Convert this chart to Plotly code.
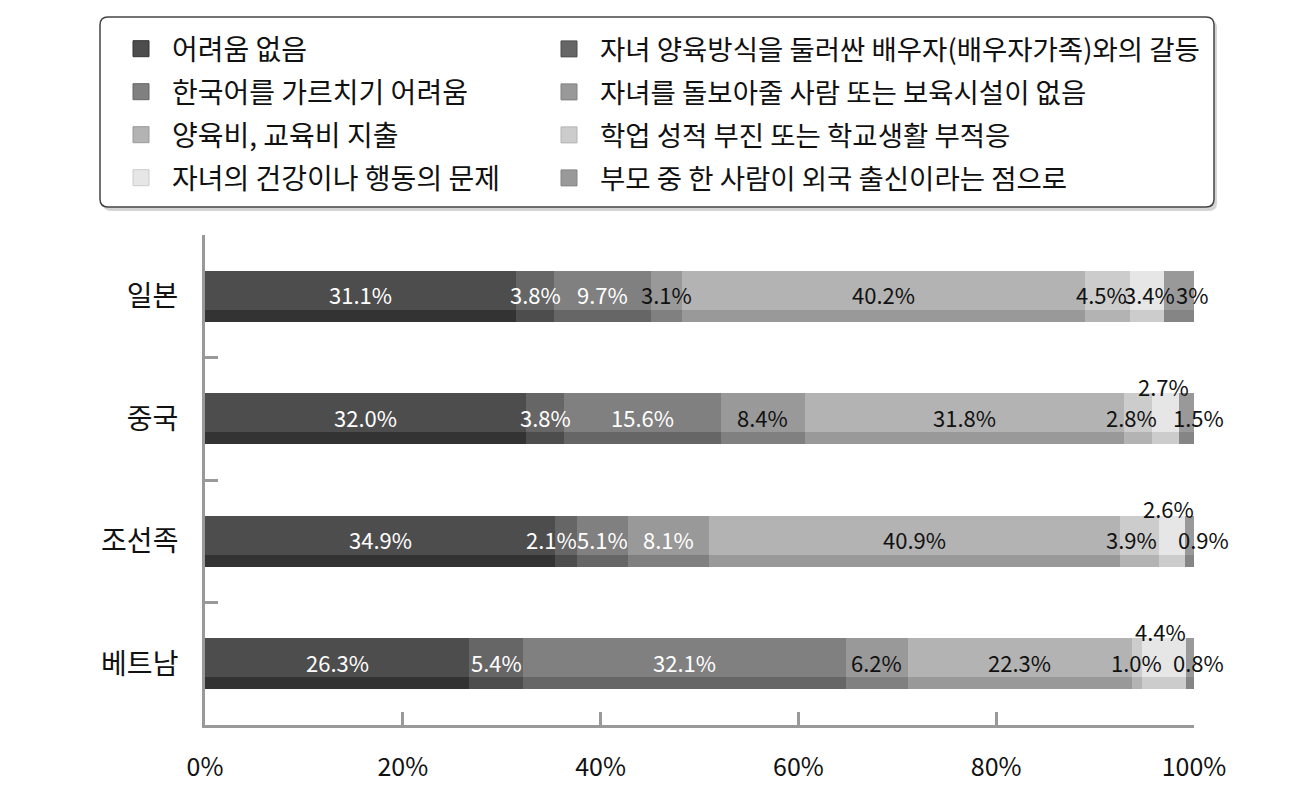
import numpy as np
import plotly.graph_objects as go

countries = ["일본", "중국", "조선족", "베트남"]

series_names = [
    "어려움 없음",
    "자녀 양육방식을 둘러싼 배우자(배우자가족)와의 갈등",
    "한국어를 가르치기 어려움",
    "자녀를 돌보아줄 사람 또는 보육시설이 없음",
    "양육비, 교육비 지출",
    "학업 성적 부진 또는 학교생활 부적응",
    "자녀의 건강이나 행동의 문제",
    "부모 중 한 사람이 외국 출신이라는 점으로",
]

no_difficulty = [31.1, 32.0, 34.9, 26.3]
parenting_conflict = [3.8, 3.8, 2.1, 5.4]
korean_teaching = [9.7, 15.6, 5.1, 32.1]
no_childcare = [3.1, 8.4, 8.1, 6.2]
education_cost = [40.2, 31.8, 40.9, 22.3]
school_problems = [4.5, 2.8, 3.9, 1.0]
health_behavior = [3.4, 2.7, 2.6, 4.4]
foreign_parent = [3, 1.5, 0.9, 0.8]

label_text = [
    ["31.1", "32.0", "34.9", "26.3"],
    ["3.8", "3.8", "2.1", "5.4"],
    ["9.7", "15.6", "5.1", "32.1"],
    ["3.1", "8.4", "8.1", "6.2"],
    ["40.2", "31.8", "40.9", "22.3"],
    ["4.5", "2.8", "3.9", "1.0"],
    ["3.4", "2.7", "2.6", "4.4"],
    ["3", "1.5", "0.9", "0.8"],
]

x_tick_vals = [0, 20, 40, 60, 80, 100]
x_tick_text = ["0%", "20%", "40%", "60%", "80%", "100%"]

# ---- styles ----
FONT = "Noto Sans CJK KR"
main_colors = ["#4d4d4d", "#666666", "#808080", "#999999", "#b3b3b3", "#cccccc", "#e6e6e6", "#999999"]
strip_colors = ["#333333", "#4d4d4d", "#666666", "#808080", "#999999", "#b3b3b3", "#cccccc", "#858585"]
label_colors = ["white", "white", "white", "#111", "#111", "#111", "#111", "#111"]
label_color_override = {(3, 2): "white"}
# (series, country): (xshift, yshift) in pixels
label_shift = {
    (5, 0): (-6, 0), (6, 0): (3, 0), (7, 0): (13, 0),
    (5, 1): (-6, 0), (6, 1): (-2, 31), (7, 1): (12, 0),
    (1, 2): (-14, 0), (5, 2): (-8, 0), (6, 2): (-3, 31), (7, 2): (14, 0),
    (6, 3): (-3, 31), (7, 3): (9, 0),
}
BAR_W = 0.42
STRIP_W = 0.1

# plot-area pixel geometry (for legend/frame placement)
W, H = 1299, 790
ML, MR, MT, MB = 205, 105, 235, 65
PW, PH = W - ML - MR, H - MT - MB


def px_x(px):
    return (px - ML) / PW


def px_y(py):
    return (H - MB - py) / PH


series = [no_difficulty, parenting_conflict, korean_teaching, no_childcare,
          education_cost, school_problems, health_behavior, foreign_parent]
vals = np.array(series, dtype=float)          # shape (8, 4)
norm = vals / vals.sum(axis=0) * 100.0         # 100% stacked
bases = np.vstack([np.zeros(vals.shape[1]), np.cumsum(norm, axis=0)[:-1]])

legend_ids = ["legend"] + [f"legend{k}" for k in range(2, 9)]

fig = go.Figure()
for i, name in enumerate(series_names):
    fig.add_trace(go.Bar(
        orientation="h", y=countries, x=norm[i], base=bases[i],
        name=name, width=BAR_W, offset=-BAR_W / 2,
        marker=dict(color=main_colors[i], line=dict(width=0)),
        showlegend=False, hoverinfo="skip",
    ))
for i, name in enumerate(series_names):
    fig.add_trace(go.Bar(
        orientation="h", y=countries, x=norm[i], base=bases[i],
        name=name, width=STRIP_W, offset=BAR_W / 2 - STRIP_W,
        marker=dict(color=strip_colors[i], line=dict(width=0)),
        showlegend=False, hoverinfo="skip",
    ))
# legend entries (one legend per entry, laid out in 2 columns x 4 rows)
for i, name in enumerate(series_names):
    fig.add_trace(go.Scatter(
        x=[None], y=[None], mode="markers", name=name,
        marker=dict(symbol="square", size=16, color=main_colors[i],
                    line=dict(color=strip_colors[i], width=1)),
        legend=legend_ids[i], showlegend=True, hoverinfo="skip",
    ))

annotations = []
for i in range(len(series_names)):
    for j, c in enumerate(countries):
        xs, ys = label_shift.get((i, j), (0, 0))
        annotations.append(dict(
            x=bases[i][j] + norm[i][j] / 2, y=c, xref="x", yref="y",
            text=label_text[i][j] + "%", showarrow=False,
            font=dict(family=FONT, size=22,
                      color=label_color_override.get((i, j), label_colors[i])),
            xshift=xs, yshift=ys + 2,
        ))

# legend frame (rounded rectangle + soft shadow)
def rounded_path(x0, y0, x1, y1, r):
    X, Y = px_x, px_y
    return (f"M {X(x0 + r)} {Y(y0)} L {X(x1 - r)} {Y(y0)} Q {X(x1)} {Y(y0)} {X(x1)} {Y(y0 + r)} "
            f"L {X(x1)} {Y(y1 - r)} Q {X(x1)} {Y(y1)} {X(x1 - r)} {Y(y1)} "
            f"L {X(x0 + r)} {Y(y1)} Q {X(x0)} {Y(y1)} {X(x0)} {Y(y1 - r)} "
            f"L {X(x0)} {Y(y0 + r)} Q {X(x0)} {Y(y0)} {X(x0 + r)} {Y(y0)} Z")

shapes = [
    dict(type="path", xref="paper", yref="paper", path=rounded_path(103, 20, 1217, 211, 8),
         fillcolor="#d4d4d4", line=dict(width=0)),
    dict(type="path", xref="paper", yref="paper", path=rounded_path(100, 17, 1214, 207, 8),
         fillcolor="white", line=dict(color="#444", width=1.5)),
]

row_centers = [49, 92, 135, 178]
col_x = [110, 538]
col_font = [28, 27.5]
layout_legends = {}
for i, lid in enumerate(legend_ids):
    row, col = i // 2, i % 2
    layout_legends[lid] = dict(
        orientation="h", xanchor="left", yanchor="middle",
        x=px_x(col_x[col]), y=px_y(row_centers[row]), itemwidth=52,
        bgcolor="rgba(0,0,0,0)", borderwidth=0,
        font=dict(family=FONT, size=col_font[col], color="#111"),
    )

fig.update_layout(
    width=W, height=H,
    margin=dict(l=ML, r=MR, t=MT, b=MB, autoexpand=False),
    paper_bgcolor="white", plot_bgcolor="white",
    barmode="overlay", bargap=0,
    font=dict(family=FONT, color="#111"),
    annotations=annotations,
    shapes=shapes,
    showlegend=True,
    **layout_legends,
    xaxis=dict(
        range=[0, 100], tickvals=x_tick_vals, ticktext=x_tick_text,
        showline=True, linecolor="#999", linewidth=3,
        ticks="inside", ticklen=13, tickwidth=3, tickcolor="#999",
        showgrid=False, zeroline=False, ticklabelstandoff=18,
        tickfont=dict(family=FONT, size=25, color="#111"),
        fixedrange=True, automargin=False,
    ),
    yaxis=dict(
        type="category", categoryorder="array", categoryarray=countries,
        range=[3.5, -0.5], autorange=False,
        showline=True, linecolor="#999", linewidth=3,
        ticks="inside", ticklen=13, tickwidth=3, tickcolor="#999",
        tickson="boundaries", showgrid=False, zeroline=False,
        ticklabelstandoff=18,
        tickfont=dict(family=FONT, size=28, color="#111"),
        fixedrange=True, automargin=False,
    ),
)

fig.write_html("out.html")
